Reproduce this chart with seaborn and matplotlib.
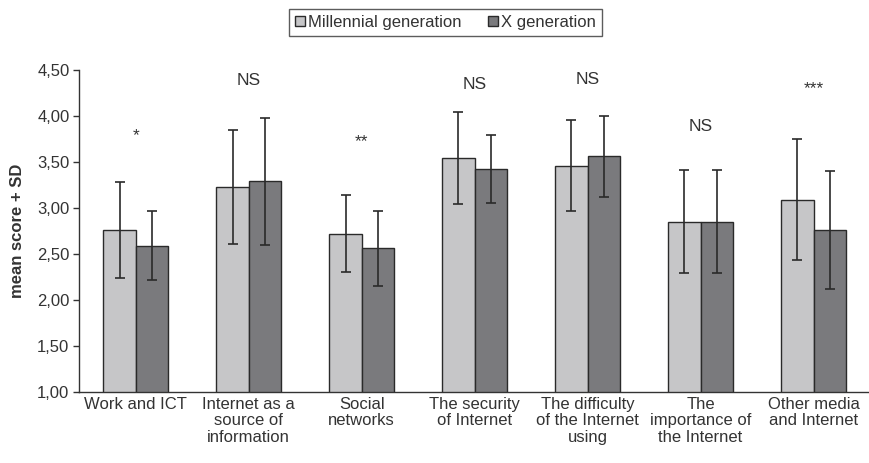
import numpy as np
import pandas as pd
import seaborn as sns
import matplotlib.pyplot as plt
from matplotlib.ticker import FixedLocator

# data
categories = ["Work and ICT", "Internet as a\nsource of\ninformation", "Social\nnetworks",
              "The security\nof Internet", "The difficulty\nof the Internet\nusing",
              "The\nimportance of\nthe Internet", "Other media\nand Internet"]
groups = ["Millennial generation", "X generation"]
mean_millennial = [2.76, 3.23, 2.72, 3.54, 3.46, 2.85, 3.09]
sd_millennial = [0.52, 0.62, 0.42, 0.50, 0.49, 0.56, 0.66]
mean_x = [2.59, 3.29, 2.56, 3.42, 3.56, 2.85, 2.76]
sd_x = [0.37, 0.69, 0.41, 0.37, 0.44, 0.56, 0.64]
signif = ["*", "NS", "**", "NS", "NS", "NS", "***"]
signif_y = [3.78, 4.38, 3.72, 4.34, 4.40, 3.88, 4.30]
yticks = [1.0, 1.5, 2.0, 2.5, 3.0, 3.5, 4.0, 4.5]

df = pd.DataFrame({
    "category": categories * 2,
    "group": [groups[0]] * len(categories) + [groups[1]] * len(categories),
    "mean": mean_millennial + mean_x,
})

sns.set_style("white")
plt.rcParams['font.family'] = ['Liberation Sans', 'DejaVu Sans']
txt = "#333333"

fig = plt.figure(figsize=(8.7, 4.63), dpi=100)
ax = fig.add_axes([0.091, 0.154, 0.909, 0.695])

sns.barplot(data=df, x="category", y="mean", hue="group", order=categories,
            hue_order=groups, palette=["#c6c6c8", "#7a7a7d"], width=0.57,
            edgecolor="#2a2a2a", linewidth=1.0, errorbar=None, ax=ax, legend=False)

# error bars (mean + SD) on top of the seaborn bars
for cont, means, sds in zip(ax.containers, [mean_millennial, mean_x], [sd_millennial, sd_x]):
    xs = [b.get_x() + b.get_width() / 2 for b in cont]
    ax.errorbar(xs, means, yerr=sds, fmt="none", ecolor="#2a2a2a",
                elinewidth=1.2, capsize=3.5, capthick=1.2, zorder=5)

for i, (s, yv) in enumerate(zip(signif, signif_y)):
    ax.text(i, yv, s, ha="center", va="center", fontsize=12.5, color=txt)

ax.set_ylim(1.0, 4.5)
ax.set_xlim(-0.5, 6.5)
ax.set_yticks(yticks)
ax.set_yticklabels([f"{v:.2f}".replace(".", ",") for v in yticks], fontsize=12, color=txt)
ax.set_xticks(range(len(categories)))
ax.set_xticklabels(categories, fontsize=12, color=txt, linespacing=1.1)
ax.xaxis.set_minor_locator(FixedLocator(np.arange(-0.5, 7, 1.0)))
ax.tick_params(axis="x", which="major", length=0, pad=4)
ax.tick_params(axis="x", which="minor", length=5, width=1, color="#333333", direction="out")
ax.tick_params(axis="y", length=4, width=1, color="#333333", direction="out", pad=3, left=True)
ax.set_xlabel("")
ax.set_ylabel("mean score + SD", fontsize=12, fontweight="bold", color=txt, labelpad=9)

sns.despine(ax=ax)
for sp in ["left", "bottom"]:
    ax.spines[sp].set_color("#333333")
    ax.spines[sp].set_linewidth(1.0)

handles = [plt.Rectangle((0, 0), 1, 1, facecolor=c, edgecolor="#2a2a2a", linewidth=1.0)
           for c in ["#c6c6c8", "#7a7a7d"]]
leg = fig.legend(handles, groups, loc="center", bbox_to_anchor=(0.512, 0.952), ncol=2,
                 fontsize=12, frameon=True, fancybox=False, edgecolor="#333333",
                 handlelength=0.6, handleheight=0.6, handletextpad=0.2,
                 columnspacing=1.6, borderpad=0.35)
leg.get_frame().set_linewidth(1.0)
for t in leg.get_texts():
    t.set_color(txt)

fig.savefig("out.png", dpi=100)
